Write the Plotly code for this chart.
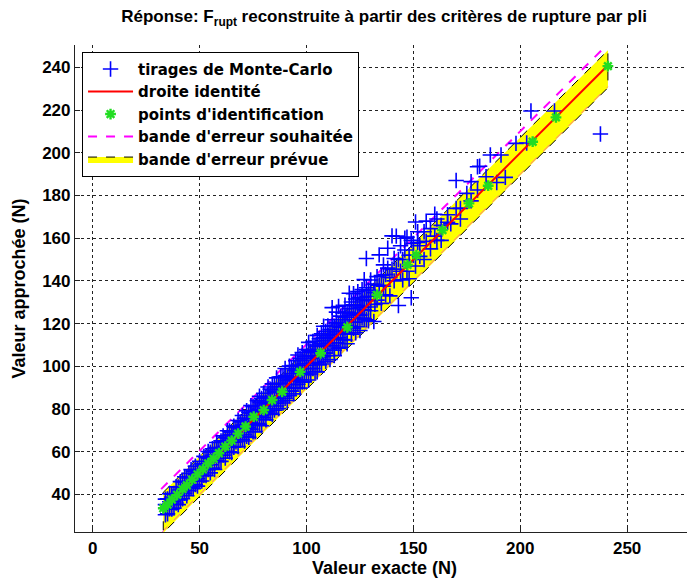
import plotly.graph_objects as go

# ---------------- data ----------------
# Monte-Carlo draws: exact value -> list of deviations (approx - exact)
mc_rows = [
    (34, [-3.5, 1.2, 3.8]), (35, [-1.8, 2.9, -4.1]), (36, [0.6, -2.7, 4.3]),
    (37, [-3.9, 1.8, 3.1]), (38, [2.4, -1.2, -4.4]), (39, [4.6, -3.0, 0.9]),
    (40, [-2.2, 3.5, -4.8]), (41, [1.1, -3.6, 5.0]), (42, [-1.4, 4.1, -4.0]),
    (43, [2.8, -2.5, 5.3]), (44, [-4.6, 0.4, 3.7]), (45, [4.9, -1.9, -3.3]),
    (46, [-2.9, 2.2, 5.6]), (47, [0.8, -4.3, 3.9]), (48, [-3.4, 5.2, 1.5]),
    (49, [2.6, -1.6, -5.1]), (50, [5.5, -3.8, 0.2]), (51, [-2.0, 3.3, -4.7]),
    (52, [1.7, -3.1, 5.8]), (53, [-4.2, 4.4, 0.9]), (54, [3.0, -2.4, 6.1]),
    (55, [-1.1, 4.8, -4.9]), (56, [2.3, -3.7, 5.4]), (57, [-5.3, 1.4, 3.6]),
    (58, [4.0, -2.1, 6.3]), (59, [-3.6, 2.7, -0.8]), (60, [5.1, -4.5, 1.9]),
    (61, [-2.6, 3.9, 6.4]), (62, [0.5, -5.0, 4.6]), (63, [3.2, -2.8, 6.8]),
    (64, [-4.0, 1.3, 5.7]), (65, [2.9, -5.4, 4.2]), (66, [-1.5, 6.0, -3.9]),
    (67, [4.4, -2.3, 1.0]), (68, [-5.6, 3.4, 6.6]), (69, [1.6, -3.3, 5.0]),
    (70, [-4.4, 2.5, 7.0]),
    (71, [-2.9, 4.7, -6.0, 1.4]), (72, [3.6, -4.8, 7.2, 0.3]), (73, [-1.7, 5.5, -6.3, 2.2]),
    (74, [4.1, -3.4, 7.6, -0.6]), (75, [-5.7, 2.0, 6.2, -2.5]), (76, [3.0, -6.5, 5.1, 0.8]),
    (77, [-3.8, 6.9, -1.0, 2.9]), (78, [5.3, -5.2, 1.2, 8.0]), (79, [-2.2, 3.8, -6.8, 6.0]),
    (80, [1.9, -4.1, 7.4, -0.3]), (81, [-6.1, 4.5, 2.0, -2.8]), (82, [3.3, -3.2, 8.3, 0.5]),
    (83, [-5.0, 6.3, -1.4, 2.6]), (84, [4.9, -6.6, 1.1, 7.8]), (85, [-2.4, 3.1, -5.5, 6.7]),
    (86, [2.1, -4.6, 8.6, -0.9]), (87, [-6.8, 5.0, 0.7, 3.4]), (88, [3.9, -2.0, 7.1, -4.2]),
    (89, [-3.0, 6.1, -6.2, 1.5]), (90, [5.7, -5.0, 0.1, 9.0]), (91, [-1.3, 4.0, -7.0, 2.4]),
    (92, [2.7, -3.6, 8.1, -5.8]), (93, [-4.7, 5.9, 1.0, 3.5]), (94, [6.4, -2.6, -6.9, 0.6]),
    (95, [-5.1, 3.2, 7.7, -1.8]), (96, [1.4, -4.4, 9.3, 4.6]), (97, [-3.3, 6.8, -7.2, 2.0]),
    (98, [4.6, -1.0, -5.4, 8.4]), (99, [-6.3, 2.3, 5.6, -2.7]), (100, [3.5, -3.9, 7.9, 0.4]),
    (101, [-2.1, 6.5, -7.4, 10.2]), (102, [5.1, -5.6, 1.7, 3.0]), (103, [-4.0, 8.7, -1.5, 4.7]),
    (104, [2.5, -6.4, 6.0, -0.2]), (105, [-3.2, 4.4, -7.6, 9.5]), (106, [6.9, -1.9, 1.3, -5.3]),
    (107, [-5.9, 3.7, 8.2, -0.8]), (108, [1.8, -3.5, 5.4, 10.8]), (109, [-2.8, 7.3, -6.7, 2.9]),
    (110, [4.3, -4.9, 0.9, 8.9]), (111, [-7.8, 2.6, 6.2, -1.1]), (112, [3.1, -2.4, 9.8, 15.5]),
    (113, [-5.4, 5.8, 0.0, -8.0]), (114, [6.6, -3.0, 2.1, 11.4]), (115, [-1.6, 4.9, -6.5, 13.0]),
    (116, [2.2, -7.1, 7.5, 0.5]), (117, [-4.5, 8.0, 3.3, -2.0]), (118, [5.0, -5.7, 10.6, 1.2]),
    (119, [-3.6, 2.8, -8.4, 6.4]), (120, [7.0, -1.3, 4.0, 14.2]), (121, [-6.0, 3.9, 9.1, -2.6]),
    (122, [1.0, -4.2, 6.8, 12.0]), (123, [-2.3, 5.3, -7.3, 8.5]), (124, [4.5, -5.5, 0.3, 11.0]),
    (125, [-8.2, 2.4, 7.2, -1.0]), (126, [6.1, -3.4, 9.9, 1.6]), (127, [-4.8, 4.2, -0.5, 13.6]),
    (128, [2.9, -6.2, 8.8, 22.5]), (129, [-1.2, 6.7, -7.7, 3.8]), (130, [5.4, -4.0, 10.4, 0.7]),
    (131.5, [-10.5, 3.0]), (132, [6.5, -3.0]), (133, [-2.0, 9.0]), (134, [4.0, 18.2]),
    (135, [-5.5, 7.5]), (136, [1.5, 11.5]), (137, [-3.5, 6.0]), (138, [8.0, 17.3]),
    (139, [-6.0, 2.5]), (140, [5.5, 21.1]), (141, [-1.0, 9.5]), (142, [3.5, 19.0]),
    (143, [-14.5, 7.0]), (144, [0.5, 12.5]), (145, [-4.5, 5.0]), (146, [8.5, 14.0]),
    (147, [-2.5, 13.5]), (148, [4.0, -7.0]), (149, [-16.9, 10.0]), (150, [2.0, 7.5]),
    (151, [16.6, -4.0]), (152, [6.0, 11.0]), (153, [-1.5, 3.5]), (155, [8.0, -5.0]),
    (156, [2.5, 12.0]), (158, [-3.0, 6.5]), (160, [11.2, 1.0]), (161, [-2.0, 8.0]),
    (163, [3.0, -4.0]), (166, [5.0, 1.5]), (167.5, [-0.8]), (170, [17.0, 4.0]),
    (172, [2.0, -3.0]), (175, [6.0]), (177, [9.5, 0.5]), (180, [13.5, 2.6]),
    (181, [12.7]), (184, [4.8]), (186, [13.0]), (189, [-2.9]), (191, [8.0]),
    (193, [-4.5]), (198, [6.4]), (203, [1.6]), (205, [14.6]), (216, [3.6]),
    (237.5, [-28.7]),
]

# identification points
id_x = [33, 35, 37, 39.5, 42, 44, 46.5, 49, 51.5, 54, 56.5, 59, 62, 65, 68, 71.5,
        75.3, 80, 83.9, 88.6, 97, 106.6, 119.1, 133, 147.2, 151.4, 163.6, 176,
        185, 205.8, 216.7, 241]
id_y = [33.5, 35.2, 37.6, 39.8, 42.5, 44.3, 46.9, 49.4, 51.7, 54.5, 56.8, 59.3, 62.4, 65.2, 68.5, 71.8,
        76.4, 79.5, 84.2, 88.1, 97.4, 106.1, 118.3, 133.4, 147.5, 152.1, 163.8, 176.3,
        184.6, 205.2, 216.6, 240.6]

# identity line
ident_x = [33, 241]
ident_y = [33, 241]

# desired error band (magenta dashed)
wish_x = [32, 241]
wish_upper = [42.5, 251]
wish_lower = [22, 231]

# predicted error band (yellow)
band_x = [33, 241]
band_upper = [41, 248]
band_lower = [22, 230.5]

# axis ticks / labels
x_ticks = [0, 50, 100, 150, 200, 250]
y_ticks = [40, 60, 80, 100, 120, 140, 160, 180, 200, 220, 240]
title_text = "Réponse: F<sub>rupt</sub> reconstruite à partir des critères de rupture par pli"
x_title = "Valeur exacte (N)"
y_title = "Valeur approchée (N)"

# ---------------- build figure ----------------
mc_x, mc_y = [], []
for xe, devs in mc_rows:
    for d in devs:
        mc_x.append(xe)
        mc_y.append(xe + d)

FONT = "Liberation Sans, Arial, sans-serif"
fig = go.Figure()

# yellow predicted band (polygon)
poly_x = [band_x[0], band_x[1], band_x[1], band_x[0], band_x[0]]
poly_y = [band_upper[0], band_upper[1], band_lower[1], band_lower[0], band_upper[0]]
fig.add_trace(go.Scatter(
    x=poly_x, y=poly_y, mode="lines", fill="toself", fillcolor="#ffff00",
    line=dict(color="black", width=1, dash="dash"),
    name="bande d'erreur prévue", legendrank=5))

# desired band
fig.add_trace(go.Scatter(
    x=wish_x, y=wish_upper, mode="lines",
    line=dict(color="#ff00ff", width=2, dash="dash"),
    name="bande d'erreur souhaitée", legendrank=4, legendgroup="w"))
fig.add_trace(go.Scatter(
    x=wish_x, y=wish_lower, mode="lines",
    line=dict(color="#ff00ff", width=1, dash="dash"), opacity=0.6,
    name="bande d'erreur souhaitée", showlegend=False, legendgroup="w"))

# Monte-Carlo
fig.add_trace(go.Scatter(
    x=mc_x, y=mc_y, mode="markers",
    marker=dict(symbol="cross-thin-open", size=11, color="#0000ff",
                line=dict(color="#0000ff", width=1.6)),
    name="tirages de Monte-Carlo", legendrank=1))

# identity
fig.add_trace(go.Scatter(
    x=ident_x, y=ident_y, mode="lines",
    line=dict(color="#ff0000", width=2),
    name="droite identité", legendrank=2))

# identification points
fig.add_trace(go.Scatter(
    x=id_x, y=id_y, mode="markers",
    marker=dict(symbol="asterisk-open", size=9, color="#22dd22",
                line=dict(color="#22dd22", width=2.4)),
    name="points d'identification", legendrank=3))

axis_common = dict(
    showgrid=True, gridcolor="#222222", griddash="dot", gridwidth=1,
    zeroline=False, showline=True, linecolor="#222222", linewidth=1.2,
    ticks="inside", ticklen=5, tickcolor="#222222", automargin=False,
    tickfont=dict(family=FONT, size=17, color="black", weight="bold"),
)

fig.update_layout(
    width=687, height=583,
    margin=dict(l=75, r=0, t=45, b=51),
    paper_bgcolor="white", plot_bgcolor="white",
    font=dict(family=FONT, color="black"),
    title=dict(
        text=title_text,
        x=0.505, xref="paper", xanchor="center",
        y=1 - 16 / 583, yref="container", yanchor="middle",
        font=dict(size=17, weight="bold")),
    xaxis=dict(range=[-8.3, 278], tickvals=x_ticks, **axis_common),
    yaxis=dict(range=[22.4, 250.5], tickvals=y_ticks, **axis_common),
    legend=dict(
        x=0.0115, y=0.986, xanchor="left", yanchor="top",
        bgcolor="white", bordercolor="black", borderwidth=1,
        font=dict(family="DejaVu Sans, sans-serif", size=15, weight="bold"),
        tracegroupgap=0, itemwidth=45),
    showlegend=True,
    annotations=[
        dict(text=x_title, xref="paper", yref="paper", x=(384 - 75) / 612, y=(532 - 568) / 487,
             xanchor="center", yanchor="middle", showarrow=False,
             font=dict(size=18, weight="bold")),
        dict(text=y_title, xref="paper", yref="paper", x=(18 - 75) / 612, y=0.5,
             xanchor="center", yanchor="middle", showarrow=False, textangle=-90,
             font=dict(size=18, weight="bold")),
    ],
)

fig.write_html(
    "out.html",
    config={"displayModeBar": False},
    post_script="document.body.style.margin='0';document.body.style.overflow='hidden';",
)
